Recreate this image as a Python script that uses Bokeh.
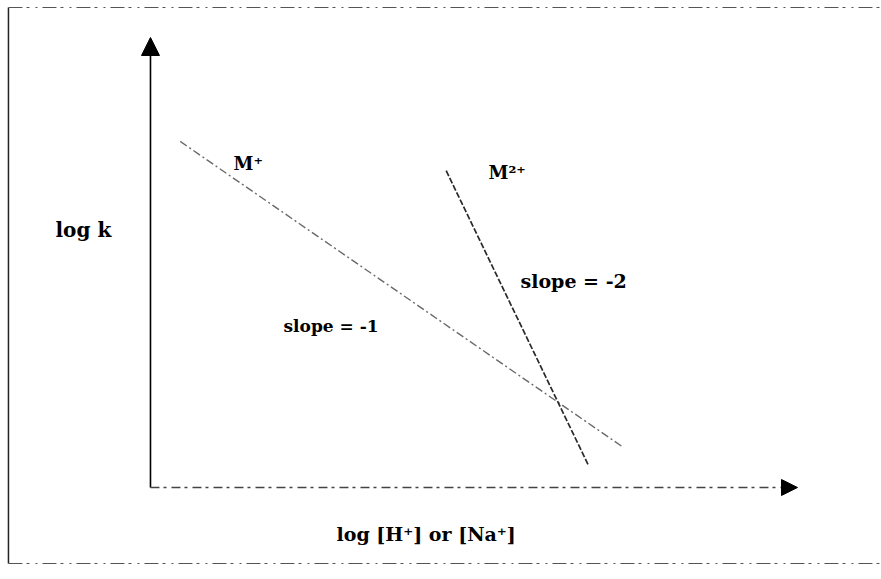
from bokeh.plotting import figure
from bokeh.models import Range1d, Arrow, NormalHead
from bokeh.core.properties import value
from bokeh.embed import file_html
from bokeh.resources import INLINE

# Schematic: log k versus log [H+] or [Na+] for mono- and divalent cations
m1_x = [0.46, 7.31]
m1_y = [7.69, 0.89]
m2_x = [4.57, 6.77]
m2_y = [7.04, 0.49]

axis_len_x = 10.0
axis_len_y = 10.0

p = figure(width=881, height=579, output_backend="svg", toolbar_location=None,
           x_range=Range1d(-2.318, 11.298), y_range=Range1d(-2.044, 10.822),
           min_border=0)
p.axis.visible = False
p.grid.visible = False
p.outline_line_color = None
p.background_fill_color = "white"
p.border_fill_color = "white"

# page frame
fx0, fx1, fy0, fy1 = -2.195, 11.298, -1.689, 10.667
p.segment(x0=[fx0], y0=[fy0], x1=[fx0], y1=[fy1], line_color="#222", line_width=1.5)
p.segment(x0=[fx0, fx0], y0=[fy1, fy0], x1=[fx1, fx1], y1=[fy1, fy0],
          line_color="#555", line_width=1.2, line_dash="14 4 3 6 2 5")

# axes as arrows
p.segment(x0=[0], y0=[0], x1=[0], y1=[axis_len_y - 0.3], line_color="black", line_width=1.6)
p.segment(x0=[0], y0=[0], x1=[axis_len_x - 0.2], y1=[0], line_color="#444",
          line_width=1.3, line_dash="9 4 3 5")
p.add_layout(Arrow(end=NormalHead(size=18, fill_color="black", line_color="black"),
                   line_alpha=0, x_start=0, y_start=axis_len_y - 0.5,
                   x_end=0, y_end=axis_len_y))
p.add_layout(Arrow(end=NormalHead(size=16, fill_color="black", line_color="black"),
                   line_alpha=0, x_start=axis_len_x - 0.4, y_start=0,
                   x_end=axis_len_x, y_end=0))

# the two lines
p.line(m1_x, m1_y, line_color="#6a6a6a", line_width=1.4, line_dash="8 3 2 3")
p.line(m2_x, m2_y, line_color="#2a2a2a", line_width=1.7, line_dash="6 2")

serif = value("DejaVu Serif")
def label(x, y, s, size="17px"):
    p.text(x=[x], y=[y], text=[s], text_font=serif, text_font_style="bold",
           text_font_size=size, text_color="black", text_baseline="middle",
           text_align="left")

label(-1.468, 5.73, "log k", "20px")
label(1.283, 7.2, "M\u207a", "18px")
label(5.224, 7.0, "M\u00b2\u207a", "18px")
label(2.056, 3.6, "slope = -1", "17px")
label(5.719, 4.58, "slope = -2", "19px")
label(2.875, -1.044, "log [H\u207a] or [Na\u207a]", "19px")

open("out.html", "w").write(file_html(p, INLINE))
